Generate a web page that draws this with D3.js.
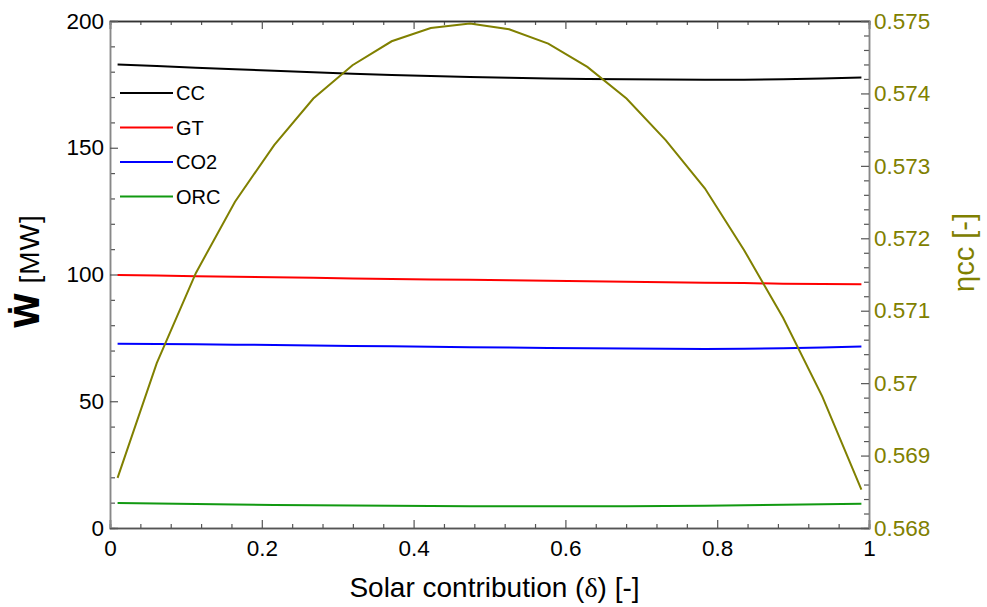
<!DOCTYPE html>
<html>
<head>
<meta charset="utf-8">
<script src="https://cdn.jsdelivr.net/npm/d3@7"></script>
<style>
  body { margin: 0; background: #fff; }
  text { font-family: "Liberation Sans", Arial, sans-serif; }
</style>
</head>
<body>
<div id="chart"></div>
<script>
// solar contribution (delta)
let delta = [0.01, 0.0616, 0.1132, 0.1647, 0.2163, 0.2679, 0.3195, 0.3711, 0.4226, 0.4742,
             0.5258, 0.5774, 0.6289, 0.6805, 0.7321, 0.7837, 0.8353, 0.8868, 0.9384, 0.99];

// power of each cycle [MW]
let powerCC  = [182.8, 182.2, 181.6, 181.0, 180.4, 179.8, 179.2, 178.7, 178.3, 177.9,
                177.6, 177.3, 177.1, 177.0, 176.9, 176.8, 176.8, 177.0, 177.3, 177.7];
let powerGT  = [99.8, 99.6, 99.3, 99.1, 98.9, 98.7, 98.4, 98.2, 98.0, 97.9,
                97.7, 97.5, 97.3, 97.1, 96.9, 96.7, 96.6, 96.4, 96.3, 96.2];
let powerCO2 = [72.7, 72.6, 72.5, 72.3, 72.2, 72.0, 71.8, 71.7, 71.5, 71.3,
                71.2, 71.0, 70.9, 70.8, 70.7, 70.6, 70.7, 70.9, 71.2, 71.6];
let powerORC = [9.9, 9.7, 9.5, 9.3, 9.1, 9.0, 8.9, 8.8, 8.7, 8.6,
                8.6, 8.6, 8.6, 8.6, 8.7, 8.8, 9.0, 9.2, 9.4, 9.6];

// combined cycle efficiency
let etaCC = [0.568692, 0.570277, 0.571522, 0.572505, 0.573287, 0.573930, 0.574389, 0.574720, 0.574903, 0.574964,
             0.574886, 0.574688, 0.574366, 0.573930, 0.573355, 0.572690, 0.571839, 0.570902, 0.569817, 0.568531];

let seriesNames = ["CC", "GT", "CO2", "ORC"];
let seriesColors = ["#000000", "#ff0000", "#0000ff", "#119911"];
let seriesValues = [powerCC, powerGT, powerCO2, powerORC];

let xTicks = [0, 0.2, 0.4, 0.6, 0.8, 1];
let xMinor = [0.04, 0.08, 0.12, 0.16, 0.24, 0.28, 0.32, 0.36, 0.44, 0.48, 0.52, 0.56,
              0.64, 0.68, 0.72, 0.76, 0.84, 0.88, 0.92, 0.96];
let leftTicks = [0, 50, 100, 150, 200];
let leftMinor = [10, 20, 30, 40, 60, 70, 80, 90, 110, 120, 130, 140, 160, 170, 180, 190];
let rightTicks = [0.568, 0.569, 0.570, 0.571, 0.572, 0.573, 0.574, 0.575];

let olive = "#808000";

let margin = {container_width: 987, container_height: 607, top: 21, right: 118, bottom: 79, left: 110},
    width = margin.container_width - margin.left - margin.right,
    height = margin.container_height - margin.top - margin.bottom;

let svg = d3.select("#chart")
    .append("svg")
    .attr("width", margin.container_width)
    .attr("height", margin.container_height)
    .append("g")
    .attr("transform", "translate(" + margin.left + "," + margin.top + ")");

let x = d3.scaleLinear().domain([0, 1]).range([0, width]);
let y = d3.scaleLinear().domain([0, 200]).range([height, 0]);
let y2 = d3.scaleLinear().domain([0.568, 0.575]).range([height, 0]);

// minor ticks
let rightMinor = [];
rightTicks.slice(0, -1).forEach(function(t) {
    [1, 2, 3, 4].forEach(function(k) { rightMinor.push(t + k * 0.0002); });
});

function styleAxis(g, color, lineColor) {
    g.select(".domain").attr("stroke", lineColor).attr("stroke-width", 1.5);
    g.selectAll(".tick line").attr("stroke", "#555").attr("stroke-width", 1.2);
    g.selectAll(".tick text")
        .attr("fill", color)
        .style("font-size", "22.5px")
        .style("font-family", "'Liberation Sans', Arial, sans-serif");
}

// bottom axis
svg.append("g")
    .attr("transform", "translate(0," + height + ")")
    .call(d3.axisBottom(x).tickValues(xMinor).tickSize(-4).tickFormat(""))
    .call(g => styleAxis(g, "#000", "#555"));
svg.append("g")
    .attr("transform", "translate(0," + height + ")")
    .call(d3.axisBottom(x).tickValues(xTicks).tickSize(-8).tickPadding(12)
        .tickFormat(d => String(d)))
    .call(g => styleAxis(g, "#000", "#555"));

// top axis
svg.append("g")
    .call(d3.axisTop(x).tickValues(xMinor).tickSize(-4).tickFormat(""))
    .call(g => styleAxis(g, "#000", "#333"));
svg.append("g")
    .call(d3.axisTop(x).tickValues(xTicks).tickSize(-8).tickFormat(""))
    .call(g => styleAxis(g, "#000", "#333"));

// left axis
svg.append("g")
    .call(d3.axisLeft(y).tickValues(leftMinor).tickSize(-5).tickFormat(""))
    .call(g => styleAxis(g, "#000", "#888"));
svg.append("g")
    .call(d3.axisLeft(y).tickValues(leftTicks).tickSize(-8).tickPadding(6)
        .tickFormat(d => String(d)))
    .call(g => styleAxis(g, "#000", "#888"));

// right axis
svg.append("g")
    .attr("transform", "translate(" + width + ",0)")
    .call(d3.axisRight(y2).tickValues(rightMinor).tickSize(-5).tickFormat(""))
    .call(g => styleAxis(g, olive, "#888"));
svg.append("g")
    .attr("transform", "translate(" + width + ",0)")
    .call(d3.axisRight(y2).tickValues(rightTicks).tickSize(-8).tickPadding(5)
        .tickFormat(d => String(+d.toFixed(3))))
    .call(g => styleAxis(g, olive, "#888"));

// power lines
let line = d3.line()
    .x(function(d, i) { return x(delta[i]); })
    .y(function(d) { return y(d); });

seriesValues.forEach(function(vals, k) {
    svg.append("path")
        .datum(vals)
        .attr("fill", "none")
        .attr("stroke", seriesColors[k])
        .attr("stroke-width", 2)
        .attr("d", line);
});

// efficiency line
let line2 = d3.line()
    .x(function(d, i) { return x(delta[i]); })
    .y(function(d) { return y2(d); });

svg.append("path")
    .datum(etaCC)
    .attr("fill", "none")
    .attr("stroke", olive)
    .attr("stroke-width", 2)
    .attr("d", line2);

// legend
let legend = svg.append("g").attr("transform", "translate(10,72)");
seriesNames.forEach(function(name, k) {
    let row = legend.append("g").attr("transform", "translate(0," + (k * 34.5) + ")");
    row.append("line")
        .attr("x1", 0).attr("x2", 53)
        .attr("stroke", seriesColors[k])
        .attr("stroke-width", 2);
    row.append("text")
        .attr("x", 56)
        .attr("dy", "0.36em")
        .style("font-size", "20px")
        .text(name);
});

// axis titles
let xTitle = svg.append("text")
    .attr("x", width / 2 + 5)
    .attr("y", height + 69)
    .attr("text-anchor", "middle")
    .style("font-size", "28px");
xTitle.append("tspan").text("Solar contribution (");
xTitle.append("tspan").style("font-family", "'Liberation Serif', 'DejaVu Serif', serif").text("δ");
xTitle.append("tspan").text(") [-]");

let yTitle = svg.append("text")
    .attr("transform", "translate(-71," + (height / 2 - 3) + ") rotate(-90)")
    .attr("text-anchor", "middle");
yTitle.append("tspan")
    .style("font-size", "33px")
    .style("font-weight", "bold")
    .style("font-family", "'DejaVu Sans', 'Liberation Sans', sans-serif")
    .text("Ẇ");
yTitle.append("tspan")
    .style("font-size", "28px")
    .style("letter-spacing", "1px")
    .text(" [MW]");

svg.append("text")
    .attr("transform", "translate(" + (width + 105) + "," + (height / 2 - 22) + ") rotate(-90)")
    .attr("text-anchor", "middle")
    .attr("fill", olive)
    .style("font-size", "29px")
    .text("ηcc [-]");
</script>
</body>
</html>
